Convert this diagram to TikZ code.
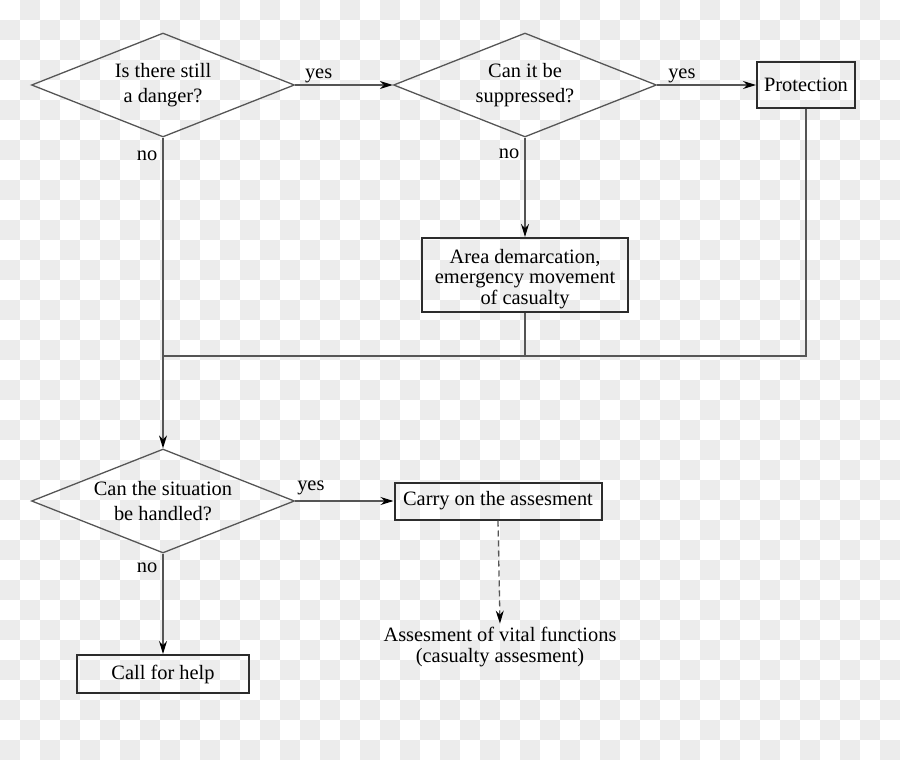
\documentclass[tikz,border=0pt]{standalone}
\usepackage{fontspec}
\setmainfont{Liberation Serif}
\usetikzlibrary{shapes.geometric,arrows.meta}
\definecolor{checkgray}{RGB}{236,236,236}
\definecolor{linegray}{RGB}{85,85,85}
\definecolor{boxgray}{RGB}{45,45,45}
\newcommand{\txt}[1]{\fontsize{20.4}{#1}\selectfont}
\newcommand{\cell}[2]{\fill[checkgray] (#1*20,#2*20) rectangle ++(20,20)}
\tikzset{
  question/.style={diamond, draw=linegray, line width=1.3pt, aspect=2.5,
    minimum width=263pt, minimum height=104pt, inner sep=0pt,
    align=center, font=\txt{25}},
  action/.style={rectangle, draw=boxgray, line width=2pt, align=center, font=\txt{20.5}},
  flow/.style={draw=linegray, line width=1.3pt,
    -{Stealth[length=13pt,width=8pt,color=black]}},
  plain/.style={draw=linegray, line width=1.3pt},
  answer/.style={font=\txt{25}, inner sep=1pt}
}

\begin{document}
\begin{tikzpicture}[x=1pt, y=-1pt]
%Background
	\useasboundingbox (0,0) rectangle (900,760);
	\foreach \i in {0,...,44}
	  \foreach \j in {0,...,37}
	    {\ifodd\numexpr\i+\j\relax \cell{\i}{\j}; \fi}
%Questions
	\node[question] (danger) at (163,85) {Is there still\\a danger?};
	\node[question] (suppr) at (525,85) {Can it be\\suppressed?};
	\node[question] (handle) at (163,501) {Can the situation\\be handled?};
%Actions
	\node[action, minimum width=98pt, minimum height=46pt] (prot) at (806,85) {Protection};
	\node[action, minimum width=206pt, minimum height=74pt] (area) at (525,275)
	  {\rule{0pt}{22pt}Area demarcation,\\emergency movement\\of casualty};
	\node[action, minimum width=207pt, minimum height=37pt] (carry) at (498,501) {Carry on the assesment};
	\node[action, minimum width=172pt, minimum height=38pt] (call) at (163,674) {Call for help};
	\node[font=\txt{21}, align=center] (vital) at (500,647)
	  {Assesment of vital functions\\(casualty assesment)};
	\coordinate (merge) at (163,356);
%First row
	\draw[flow] (danger.east) -- node[answer, above, pos=0.24] (yes1) {yes} (suppr.west);
	\draw[flow] (suppr.east) -- node[answer, above, pos=0.25] (yes2) {yes} (prot.west);
	\draw[flow] (suppr.south) -- node[answer, left, inner sep=5pt, pos=0.16] (no2) {no} (area.north);
%Back to the left
	\draw[plain] (prot.south) |- (merge);
	\draw[plain] (area.south) -- (area.south |- merge);
	\draw[flow] (danger.south) -- node[answer, left, inner sep=5pt, pos=0.058] (no1) {no} (handle.north);
%Last question
	\draw[flow] (handle.east) -- node[answer, above, inner sep=5pt, pos=0.16] (yes3) {yes} (carry.west);
	\draw[flow] (handle.south) -- node[answer, left, inner sep=5pt, pos=0.14] (no3) {no} (call.north);
	\draw[flow, dash pattern=on 6pt off 4pt] (carry.south) -- (vital.north);
\end{tikzpicture}
\end{document}
